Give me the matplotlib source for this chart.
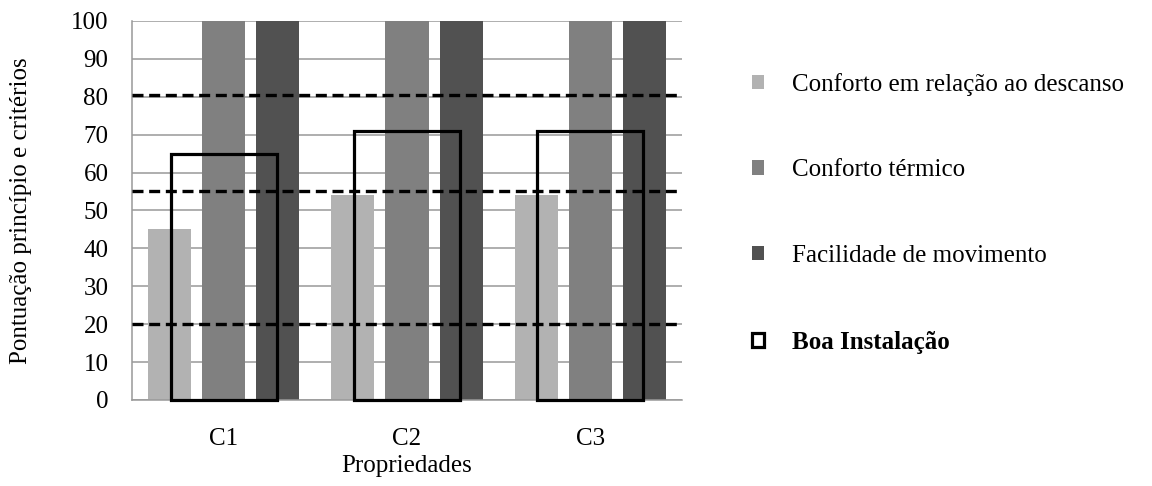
import matplotlib.pyplot as plt
import numpy as np
from matplotlib.patches import Patch

plt.rcParams["font.family"] = ["Liberation Serif", "DejaVu Serif"]

categories = ["C1", "C2", "C3"]
descanso = [45, 54, 54]
termico = [100, 100, 100]
movimento = [100, 100, 100]
boa_instalacao = [65, 71, 71]
limites = [80.5, 55, 20]

series_names = ["Conforto em relação ao descanso", "Conforto térmico",
                "Facilidade de movimento"]
colors = ["#b2b2b2", "#808080", "#515151"]

fig = plt.figure(figsize=(11.52, 4.86), dpi=100)
ax = fig.add_axes([0.1146, 0.177, 0.4774, 0.78])

x = np.arange(len(categories))
step = 0.296
width = 0.235

for i, (vals, col) in enumerate(zip([descanso, termico, movimento], colors)):
    ax.bar(x + (i - 1) * step, vals, width=width, color=col, zorder=2)

ax.bar(x, boa_instalacao, width=0.58, facecolor="none", edgecolor="black",
       linewidth=2.3, zorder=3, clip_on=False)

ax.hlines(limites, -0.5, 2.5, colors="black", linewidth=2.4,
          linestyles=(0, (3.3, 1.7)), zorder=4)

ax.set_xlim(-0.5, 2.5)
ax.set_ylim(0, 100)
ax.set_yticks(np.arange(0, 101, 10))
ax.set_xticks(x)
ax.set_xticklabels(categories)
ax.tick_params(axis="both", length=0, labelsize=18)
ax.tick_params(axis="y", pad=17)
ax.tick_params(axis="x", pad=20)
ax.yaxis.grid(True, color="#999999", linewidth=1.1, zorder=0)
ax.set_axisbelow(True)
for side in ["top", "right"]:
    ax.spines[side].set_visible(False)
for side in ["left", "bottom"]:
    ax.spines[side].set_color("#999999")
    ax.spines[side].set_linewidth(1.1)

ax.set_xlabel("Propriedades", fontsize=18, labelpad=4)
ax.set_ylabel("Pontuação princípio e critérios", fontsize=18, labelpad=28)

handles = [Patch(facecolor=c, edgecolor="none") for c in colors]
handles.append(Patch(facecolor="white", edgecolor="black", linewidth=2.3))
labels = series_names + ["Boa Instalação"]
leg = fig.legend(handles, labels, loc="upper left",
                 bbox_to_anchor=(0.633, 0.897), frameon=False, fontsize=18,
                 handlelength=0.5, handleheight=0.5, handletextpad=1.1,
                 labelspacing=2.55)
leg.get_texts()[3].set_fontweight("bold")

fig.savefig("out.png", dpi=100)
